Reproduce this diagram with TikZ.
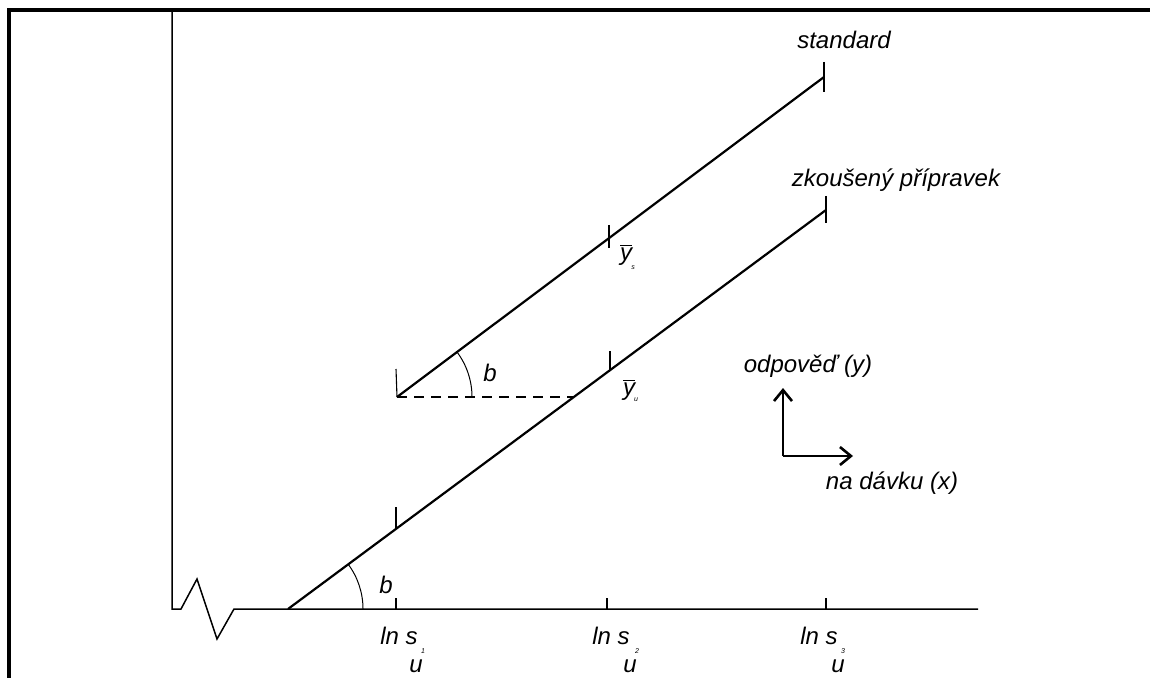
\documentclass[tikz,border=0pt]{standalone}
\usepackage{fontspec}
\setmainfont{Liberation Sans}
\usetikzlibrary{arrows.meta}
\begin{document}
\begin{tikzpicture}[x=0.5pt,y=-0.5pt,
  lbl/.style={inner sep=0pt,font=\fontsize{12}{13}\selectfont\itshape},
  tiny/.style={inner sep=0pt,font=\fontsize{3.5}{4}\selectfont\itshape},
  frame/.style={line width=1.6pt},
  axis/.style={line width=0.75pt},
  curve/.style={line width=1.1pt},
  tick/.style={line width=0.55pt},
  thin/.style={line width=0.5pt},
  arr/.style={line width=0.65pt,-{Straight Barb[length=5.5pt,width=9pt,line width=1.3pt]}}]
\useasboundingbox (0,0) rectangle (1150,678);
% frame
\coordinate (ftl) at (9,10);
\coordinate (ftr) at (1150,10);
\coordinate (fbl) at (9,678);
\draw[frame] (fbl) -- (ftl) -- (ftr);
% axes
\coordinate (ytop) at (172,10);
\coordinate (o) at (172,609);
\coordinate (z1) at (181,609);
\coordinate (z2) at (197,579);
\coordinate (z3) at (217,639);
\coordinate (z4) at (234,609);
\coordinate (xend) at (978,609);
\draw[axis] (ytop) -- (o) -- (z1) -- (z2) -- (z3) -- (z4) -- (xend);
% x-axis ticks
\foreach \x/\n in {396/1,607/2,826/3} {
  \coordinate (tb\n) at (\x,609);
  \coordinate (tt\n) at (\x,598);
  \draw[tick] (tb\n) -- (tt\n);
}
% lower line (test preparation)
\coordinate (la) at (288,609);
\coordinate (lb) at (826,210);
\draw[curve] (la) -- (lb);
\draw[tick] (396,528) -- (396,507);
\draw[tick] (610,371) -- (610,351);
\draw[tick] (826,196) -- (826,223);
% upper line (standard)
\coordinate (ua) at (397,397);
\coordinate (ub) at (824,77);
\draw[curve] (ua) -- (ub);
\draw[tick] (396,369) -- (ua);
\draw[tick] (609,225) -- (609,248);
\draw[tick] (824,62) -- (824,92);
% dashed horizontal
\coordinate (dm) at (573,397);
\draw[axis,dash pattern=on 5pt off 3.5pt] (ua) -- (dm);
% angle arcs
\draw[thin] (363,609) arc[start angle=0,end angle=-36.6,radius=75];
\draw[thin] (472,397) arc[start angle=0,end angle=-36.8,radius=75];
% labels
\node[lbl] (tstd) at (844,40) {standard};
\node[lbl] (tzk) at (896,180) {zkoušený přípravek};
\node[lbl] (bup) at (490,373) {b};
\node[lbl] (blo) at (386,585) {b};
\node[lbl] (ys) at (626,255) {$\overline{\hbox{\itshape y}}$};
\node[tiny] (yss) at (633,268) {s};
\node[lbl] (yu) at (629,390) {$\overline{\hbox{\itshape y}}$};
\node[tiny] (yus) at (636,400) {u};
% ln s labels
\node[lbl,anchor=west] (l1) at (380,636) {ln s};
\node[lbl,anchor=west] (l2) at (592,636) {ln s};
\node[lbl,anchor=west] (l3) at (800,636) {ln s};
\node[tiny] (s1) at (423,651) {1};
\node[tiny] (s2) at (637,651) {2};
\node[tiny] (s3) at (843,651) {3};
\node[lbl] (u1) at (416,666) {u};
\node[lbl] (u2) at (630,666) {u};
\node[lbl] (u3) at (838,666) {u};
% direction arrows
\coordinate (ac) at (783,456);
\coordinate (ay) at (783,388);
\coordinate (ax) at (853,456);
\draw[arr] (ac) -- (ay);
\draw[arr] (ac) -- (ax);
\node[lbl] (ty) at (808,366) {odpověď (y)};
\node[lbl] (tx) at (892,483) {na dávku (x)};
\end{tikzpicture}
\end{document}
